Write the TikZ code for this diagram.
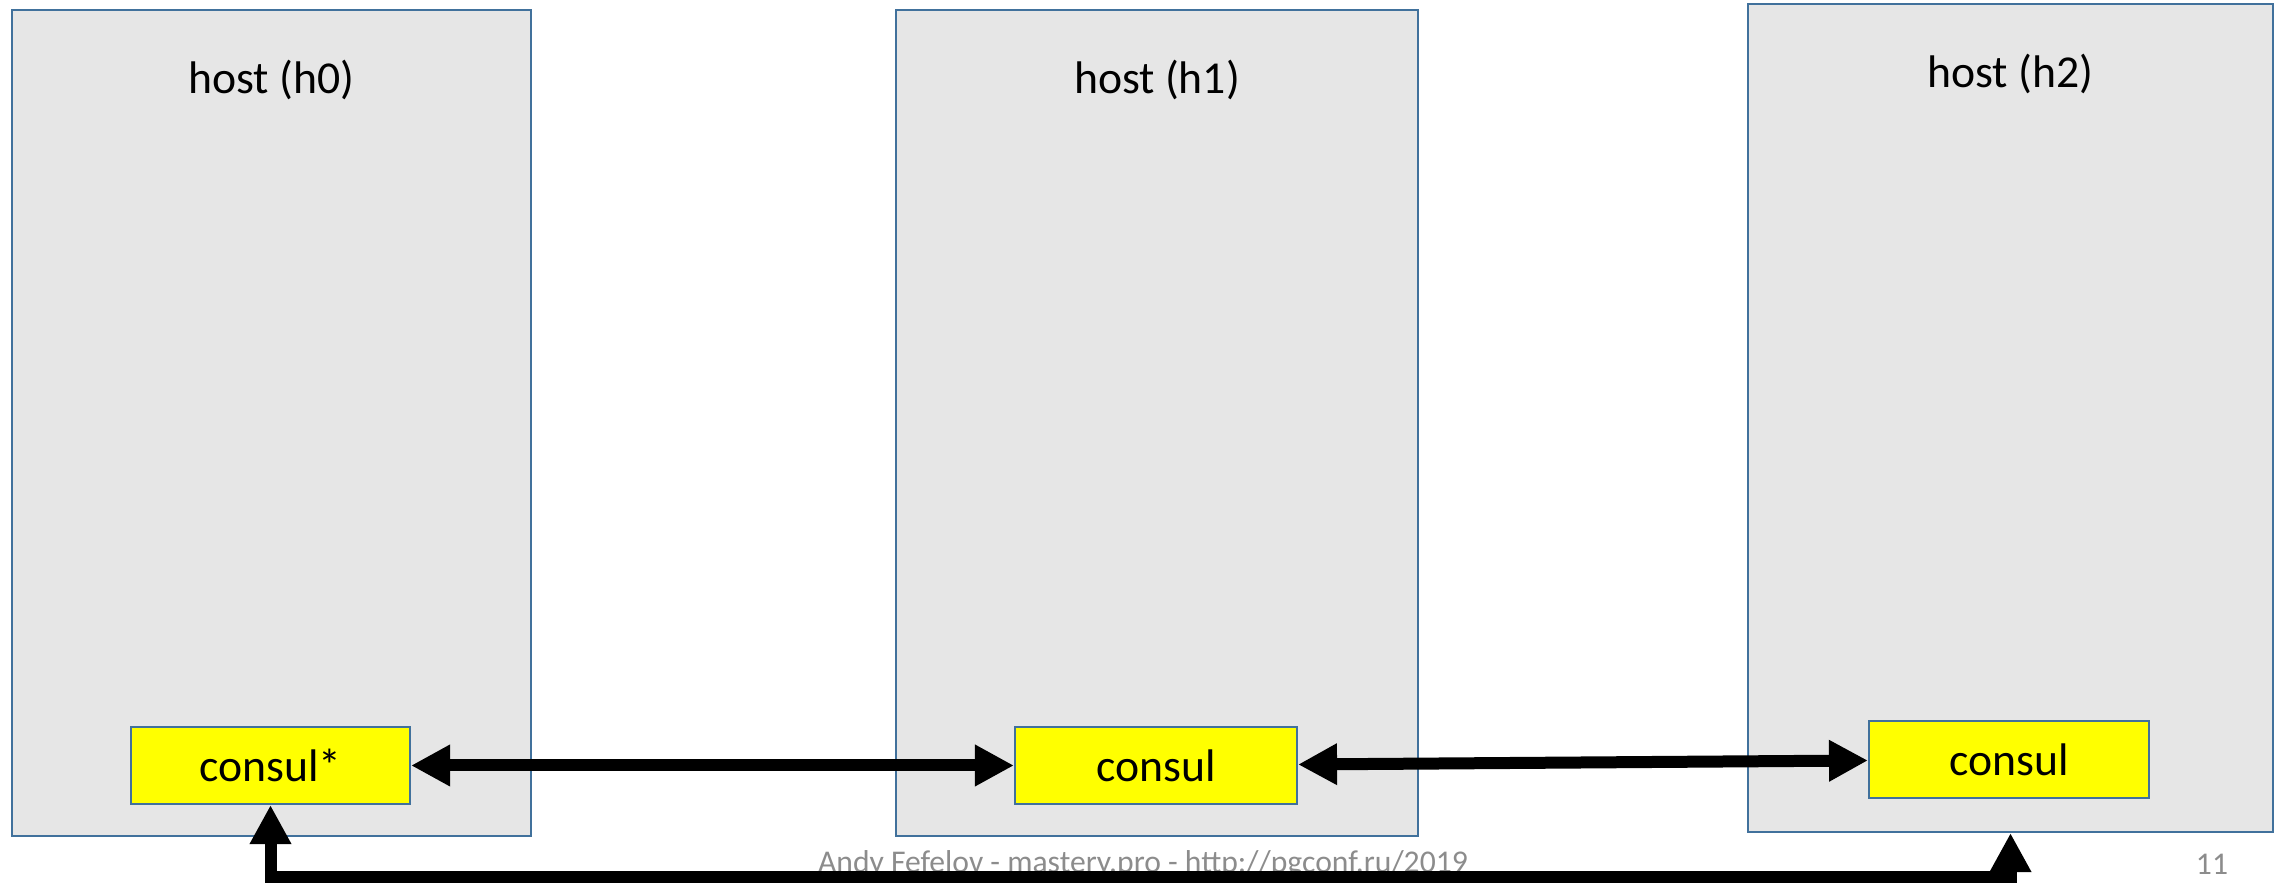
\documentclass[tikz,border=0pt]{standalone}
\usepackage{fontspec}
\setmainfont{Carlito}
\usetikzlibrary{positioning, arrows.meta}
\definecolor{hostfill}{HTML}{E6E6E6}
\definecolor{edgeblue}{HTML}{41719C}
\definecolor{agentfill}{HTML}{FFFF00}
\definecolor{footgray}{HTML}{8C8C8C}
\tikzset{>={Triangle[length=3.9mm, width=3.9mm]}, % big solid arrow heads
host/.style={draw=edgeblue, fill=hostfill, line width=0.6pt, minimum height=8.26cm}, % the grey host boxes
title/.style={font=\fontsize{13}{15}\selectfont, inner sep=0pt}, % the host names
agent/.style={draw=edgeblue, fill=agentfill, line width=0.6pt, minimum height=0.77cm, minimum width=2.8cm, font=\fontsize{13}{15}\selectfont}, % the consul boxes
link/.style={<->, line width=0.12cm}, % the thick connectors
foot/.style={text=footgray, font=\fontsize{9}{11}\selectfont, inner sep=0pt}, % slide footer
}
\begin{document}
\begin{tikzpicture}
\useasboundingbox (0,0) rectangle (22.8,8.84);

\node[host, minimum width=5.19cm] (h0) at (2.715,4.61) {};
\node[host, minimum width=5.22cm] (h1) at (11.57,4.61) {};
\node[host, minimum width=5.25cm, minimum height=8.28cm] (h2) at (20.105,4.66) {};

\node[title] (t0) at ([yshift=-7.1mm]h0.north) {host (h0)};
\node[title] (t1) at ([yshift=-7.1mm]h1.north) {host (h1)};
\node[title] (t2) at ([yshift=-7.1mm]h2.north) {host (h2)};

\node[agent, minimum width=2.79cm] (c0) at (2.705,1.185) {consul*};
\node[agent, minimum width=2.82cm] (c1) at (11.56,1.185) {consul};
\node[agent] (c2) at (20.09,1.245) {consul};

\node[foot] (footer) at (11.43,0.2) {Andy Fefelov - mastery.pro - http://pgconf.ru/2019};
\node[foot] (page) at (22.12,0.2) {11};

\coordinate (low) at (0,0.07);

\draw[link] (c0) -- (c1);
\draw[link] (c1) -- (c2);
\draw[link] (c0.south) -- (c0.south |- low) -| (h2.south);

\end{tikzpicture}
\end{document}
